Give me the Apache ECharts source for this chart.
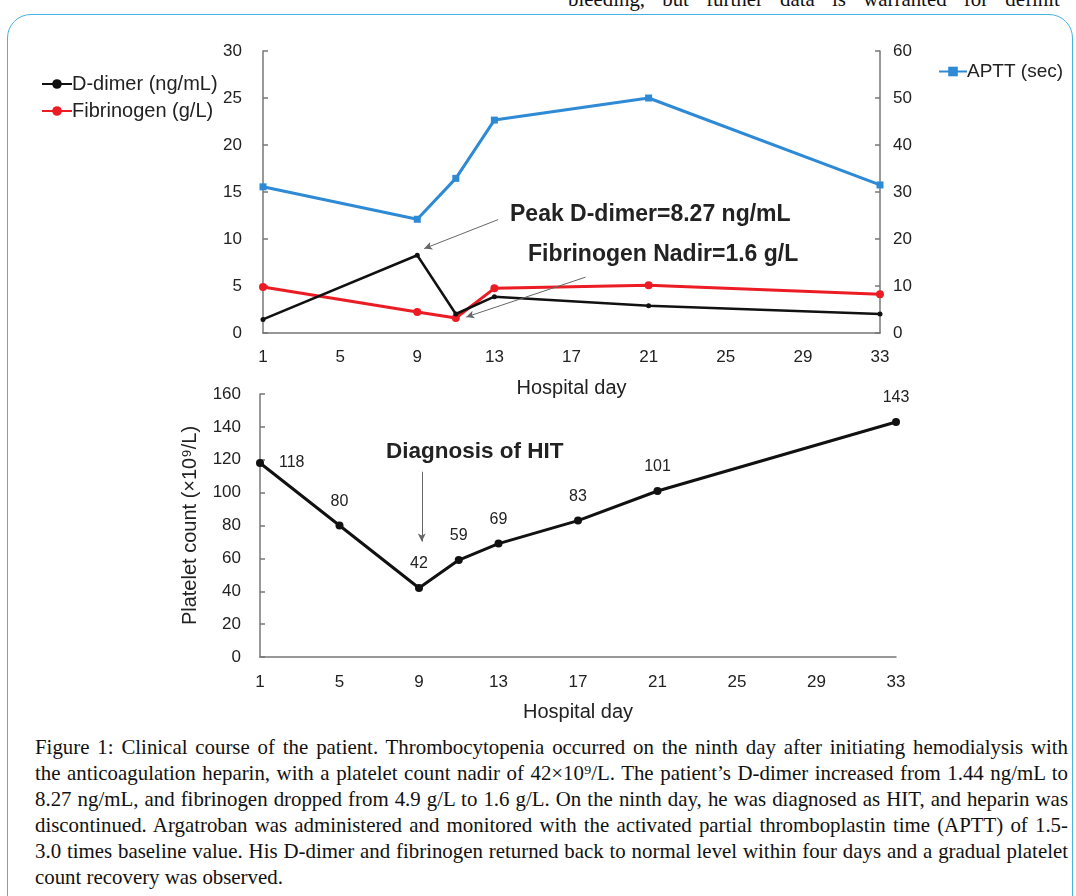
<!DOCTYPE html>
<html>
<head>
<meta charset="utf-8">
<script src="https://cdn.jsdelivr.net/npm/echarts@6/dist/echarts.min.js"></script>
<style>
  html, body { margin: 0; padding: 0; background: #fff; width: 1076px; height: 896px; overflow: hidden; position: relative; }
  #frame { position: absolute; left: 7px; top: 14px; width: 1066px; height: 920px; border: 1.5px solid #45b3e3; border-radius: 24px; box-sizing: border-box; }
  #chart { position: absolute; left: 0; top: 0; width: 1076px; height: 730px; }
  #topText { position: absolute; left: 568px; top: -14px; width: 560px; font-family: "Liberation Serif", "DejaVu Serif", serif; font-size: 19px; line-height: 26px; color: #111; white-space: nowrap; word-spacing: 12px; }
  #caption { position: absolute; left: 35px; top: 734px; width: 1033px; font-family: "Liberation Serif", "DejaVu Serif", serif; font-size: 19px; line-height: 26px; color: #111; }
  #caption .ln { text-align: justify; text-align-last: justify; white-space: nowrap; }
  #caption .ln.last { text-align-last: left; }
</style>
</head>
<body>
<div id="topText">bleeding, but further data is warranted for definit</div>
<div id="frame"></div>
<div id="chart"></div>
<div id="caption"></div>
<script>
// ---- data ----
const coagDays = [1, 9, 11, 13, 21, 33];
const dDimer = [1.44, 8.27, 2.02, 3.86, 2.9, 2.02];
const fibrinogen = [4.9, 2.23, 1.6, 4.75, 5.07, 4.12];
const aptt = [31.1, 24.2, 32.9, 45.3, 50.0, 31.5];
const plateletDays = [1, 5, 9, 11, 13, 17, 21, 33];
const platelet = [118, 80, 42, 59, 69, 83, 101, 143];
const captionLines = [
  "Figure 1: Clinical course of the patient. Thrombocytopenia occurred on the ninth day after initiating hemodialysis with",
  "the anticoagulation heparin, with a platelet count nadir of 42×10⁹/L. The patient’s D-dimer increased from 1.44 ng/mL to",
  "8.27 ng/mL, and fibrinogen dropped from 4.9 g/L to 1.6 g/L. On the ninth day, he was diagnosed as HIT, and heparin was",
  "discontinued. Argatroban was administered and monitored with the activated partial thromboplastin time (APTT) of 1.5-",
  "3.0 times baseline value. His D-dimer and fibrinogen returned back to normal level within four days and a gradual platelet",
  "count recovery was observed."
];

// caption: size the serif font so the longest line nearly fills the column, then justify
const serif = '"Liberation Serif", "DejaVu Serif", serif';
const mc = document.createElement('canvas').getContext('2d');
mc.font = '100px ' + serif;
const widest = Math.max(...captionLines.slice(0, -1).map(t => mc.measureText(t).width));
const capSize = Math.max(18, Math.min(22, 100 * 1020 / widest));
const cap = document.getElementById('caption');
cap.style.fontSize = capSize.toFixed(2) + 'px';
document.getElementById('topText').style.fontSize = capSize.toFixed(2) + 'px';
captionLines.forEach((t, i) => {
  const d = document.createElement('div');
  d.className = 'ln' + (i === captionLines.length - 1 ? ' last' : '');
  d.textContent = t;
  cap.appendChild(d);
});

const zip = (xs, ys) => xs.map((x, i) => [x, ys[i]]);
const font = 'Liberation Sans, Arial, sans-serif';
const axisLineStyle = { color: '#777', width: 1.5 };
const lbl = { fontFamily: font, fontSize: 17, color: '#222' };

const chart = echarts.init(document.getElementById('chart'), null, { renderer: 'canvas' });
chart.setOption({
  animation: false,
  textStyle: { fontFamily: font },
  grid: [
    { left: 263, right: 196, top: 51, height: 282 },
    { left: 260, right: 180, top: 394, height: 263 }
  ],
  legend: [
    { orient: 'vertical', left: 36, top: 69, itemGap: 7, itemWidth: 30, itemHeight: 12,
      data: ['D-dimer (ng/mL)', 'Fibrinogen (g/L)'],
      textStyle: { fontFamily: font, fontSize: 20, color: '#222', padding: [0, 0, 0, -5] } },
    { left: 933, top: 57, itemWidth: 28, itemHeight: 12,
      data: ['APTT (sec)'],
      textStyle: { fontFamily: font, fontSize: 19, color: '#222', padding: [0, 0, 0, -5] } }
  ],
  xAxis: [
    { gridIndex: 0, type: 'value', min: 1, max: 33, interval: 4,
      axisLine: { lineStyle: axisLineStyle }, axisTick: { show: false },
      axisLabel: Object.assign({ margin: 16 }, lbl), splitLine: { show: false },
      name: 'Hospital day', nameLocation: 'middle', nameGap: 45,
      nameTextStyle: { fontFamily: font, fontSize: 20, color: '#222' } },
    { gridIndex: 1, type: 'value', min: 1, max: 33, interval: 4,
      axisLine: { lineStyle: axisLineStyle }, axisTick: { show: false },
      axisLabel: Object.assign({ margin: 17 }, lbl), splitLine: { show: false },
      name: 'Hospital day', nameLocation: 'middle', nameGap: 45,
      nameTextStyle: { fontFamily: font, fontSize: 20, color: '#222' } }
  ],
  yAxis: [
    { gridIndex: 0, type: 'value', min: 0, max: 30, interval: 5,
      axisLine: { show: true, lineStyle: axisLineStyle },
      axisTick: { show: true, inside: true, length: 5, lineStyle: axisLineStyle },
      axisLabel: Object.assign({ margin: 21 }, lbl), splitLine: { show: false } },
    { gridIndex: 0, type: 'value', position: 'right', min: 0, max: 60, interval: 10,
      axisLine: { show: true, lineStyle: axisLineStyle },
      axisTick: { show: true, inside: true, length: 5, lineStyle: axisLineStyle },
      axisLabel: Object.assign({ margin: 13 }, lbl), splitLine: { show: false } },
    { gridIndex: 1, type: 'value', min: 0, max: 160, interval: 20,
      axisLine: { show: true, lineStyle: axisLineStyle },
      axisTick: { show: true, inside: true, length: 5, lineStyle: axisLineStyle },
      axisLabel: Object.assign({ margin: 19 }, lbl), splitLine: { show: false },
      name: 'Platelet count (×10⁹/L)', nameLocation: 'middle', nameGap: 60, nameRotate: 90,
      nameTextStyle: { fontFamily: font, fontSize: 20, color: '#222' } }
  ],
  series: [
    { name: 'D-dimer (ng/mL)', type: 'line', xAxisIndex: 0, yAxisIndex: 0,
      data: zip(coagDays, dDimer), symbol: 'circle', symbolSize: 5,
      lineStyle: { color: '#111', width: 2.5 }, itemStyle: { color: '#111' }, z: 4,
      markLine: { silent: true, symbol: ['none', 'arrow'], symbolSize: [6, 8], animation: false,
        lineStyle: { color: '#666', width: 1, type: 'solid' }, label: { show: false },
        data: [
          [{ coord: [13.19, 12.06] }, { coord: [9.36, 8.98] }],
          [{ coord: [17.73, 5.94] }, { coord: [11.54, 1.70] }]
        ] } },
    { name: 'Fibrinogen (g/L)', type: 'line', xAxisIndex: 0, yAxisIndex: 0,
      data: zip(coagDays, fibrinogen), symbol: 'circle', symbolSize: 8,
      lineStyle: { color: '#ec1c24', width: 3 }, itemStyle: { color: '#ec1c24' }, z: 3 },
    { name: 'APTT (sec)', type: 'line', xAxisIndex: 0, yAxisIndex: 1,
      data: zip(coagDays, aptt), symbol: 'rect', symbolSize: 7,
      lineStyle: { color: '#2f8ad6', width: 3 }, itemStyle: { color: '#2f8ad6' }, z: 3 },
    { name: 'Platelet', type: 'line', xAxisIndex: 1, yAxisIndex: 2,
      data: zip(plateletDays, platelet).map((d, i) => i === 0
        ? { value: d, label: { position: 'right', distance: 15 } }
        : d),
      symbol: 'circle', symbolSize: 8,
      lineStyle: { color: '#111', width: 3 }, itemStyle: { color: '#111' },
      label: { show: true, position: 'top', distance: 12, fontFamily: font, fontSize: 16, color: '#222',
        formatter: p => p.value[1] },
      markLine: { silent: true, symbol: ['none', 'arrow'], symbolSize: [6, 8], animation: false,
        lineStyle: { color: '#666', width: 1, type: 'solid' }, label: { show: false },
        data: [[{ coord: [9.14, 112.7] }, { coord: [9.14, 70.2] }]] } }
  ],
  graphic: [
    { type: 'text', left: 510, top: 203, style: { text: 'Peak D-dimer=8.27 ng/mL', font: 'bold 23px ' + font, fill: '#222' } },
    { type: 'text', left: 528, top: 243, style: { text: 'Fibrinogen Nadir=1.6 g/L', font: 'bold 23px ' + font, fill: '#222' } },
    { type: 'text', left: 386, top: 440, style: { text: 'Diagnosis of HIT', font: 'bold 22.5px ' + font, fill: '#222' } }
  ]
});
</script>
</body>
</html>
